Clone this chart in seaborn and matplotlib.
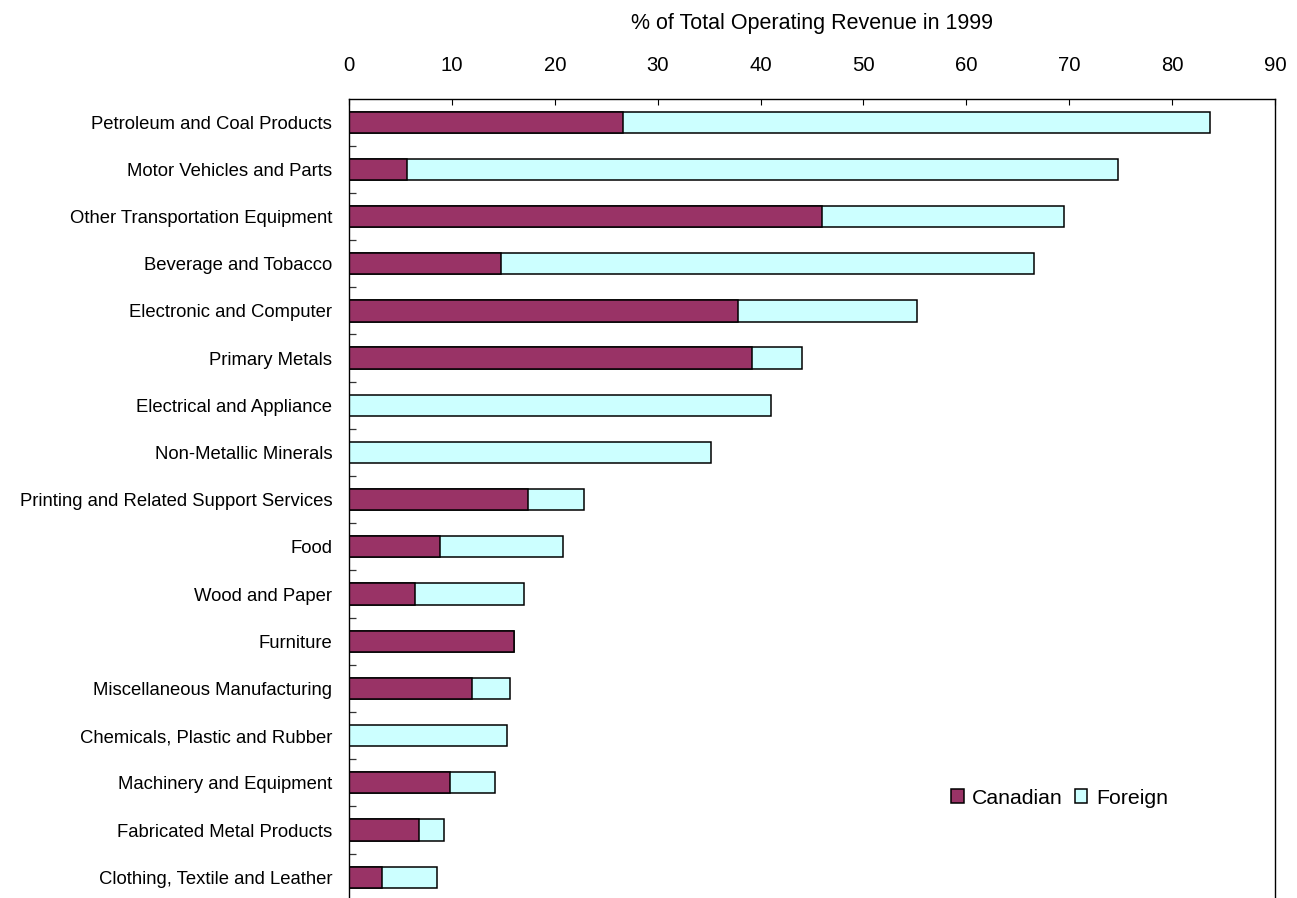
import matplotlib
matplotlib.use('Agg')
import matplotlib.pyplot as plt
import seaborn as sns
import pandas as pd
import numpy as np
from matplotlib.patches import Patch

categories = [
    "Petroleum and Coal Products",
    "Motor Vehicles and Parts",
    "Other Transportation Equipment",
    "Beverage and Tobacco",
    "Electronic and Computer",
    "Primary Metals",
    "Electrical and Appliance",
    "Non-Metallic Minerals",
    "Printing and Related Support Services",
    "Food",
    "Wood and Paper",
    "Furniture",
    "Miscellaneous Manufacturing",
    "Chemicals, Plastic and Rubber",
    "Machinery and Equipment",
    "Fabricated Metal Products",
    "Clothing, Textile and Leather",
]
canadian = [26.6, 5.6, 46.0, 14.8, 37.8, 39.2, 0.0, 0.0, 17.4, 8.8, 6.4, 16.0, 12.0, 0.0, 9.8, 6.8, 3.2]
foreign = [57.1, 69.1, 23.5, 51.8, 17.4, 4.8, 41.0, 35.2, 5.45, 12.0, 10.6, 0.0, 3.6, 15.4, 4.4, 2.4, 5.4]
x_ticks = [0, 10, 20, 30, 40, 50, 60, 70, 80, 90]
x_title = "% of Total Operating Revenue in 1999"
series_names = ["Canadian", "Foreign"]

CAN_COLOR = "#993366"
FOR_COLOR = "#CCFFFF"

sns.set_theme(style="white")
plt.rcParams['font.family'] = ['Liberation Sans', 'DejaVu Sans']
plt.rcParams['text.color'] = 'black'

df = pd.DataFrame({"Industry": categories, "Canadian": canadian, "Foreign": foreign})
df["Total"] = df["Canadian"] + df["Foreign"]

W, H = 1297, 898
fig = plt.figure(figsize=(W / 100, H / 100), dpi=100)
ax = fig.add_axes([349 / W, 0, 926 / W, 1 - 99 / H])

bar_kw = dict(orient="h", edgecolor="black", linewidth=1.1, width=0.45,
              saturation=1, errorbar=None, ax=ax)
sns.barplot(data=df, y="Industry", x="Total", color=FOR_COLOR, **bar_kw)
sns.barplot(data=df, y="Industry", x="Canadian", color=CAN_COLOR, **bar_kw)

ax.set_xlim(0, 90)
ax.set_ylim(16.44, -0.49)
ax.xaxis.tick_top()
ax.xaxis.set_label_position("top")
ax.set_xticks(x_ticks)
ax.set_xticklabels([str(t) for t in x_ticks])
ax.tick_params(axis="x", which="major", direction="in", length=4.5, width=0.8,
               color="black", pad=17, labelsize=14.6, labelcolor="black")
ax.set_xlabel(x_title, fontsize=15.5, labelpad=20, color="black")

ax.set_yticks(range(len(categories)))
ax.set_yticklabels(categories)
ax.tick_params(axis="y", which="major", length=0, pad=12, labelsize=13.3, labelcolor="black")
ax.set_yticks(np.arange(0.5, len(categories) - 0.5, 1), minor=True)
ax.tick_params(axis="y", which="minor", direction="in", length=5, width=0.9,
               color="#333333", left=True)
ax.set_ylabel("")
ax.grid(False)

for side in ["top", "left", "right"]:
    ax.spines[side].set_visible(True)
    ax.spines[side].set_color("black")
    ax.spines[side].set_linewidth(1.0)
ax.spines["bottom"].set_visible(False)

handles = [Patch(facecolor=CAN_COLOR, edgecolor="black", linewidth=1.1),
           Patch(facecolor=FOR_COLOR, edgecolor="black", linewidth=1.1)]
fig.legend(handles, series_names, loc="center left",
           bbox_to_anchor=(951 / W, 1 - 798 / H), bbox_transform=fig.transFigure,
           ncol=2, frameon=False, fontsize=15.3, handlelength=0.6, handleheight=0.6,
           handletextpad=0.4, columnspacing=0.55, borderpad=0, borderaxespad=0,
           labelcolor="black")

fig.savefig("out.png", dpi=100)
